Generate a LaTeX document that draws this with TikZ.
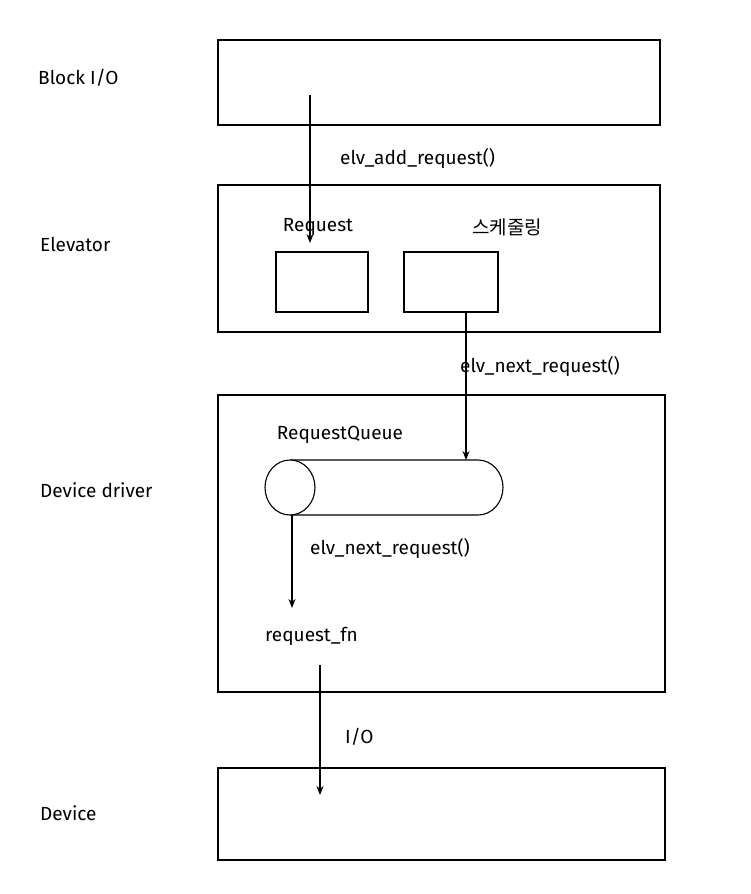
\documentclass[tikz,border=0pt]{standalone}
\usepackage{fontspec}
\setmainfont{Fira Sans}
\newfontfamily\cjk{Noto Sans CJK KR}
\usetikzlibrary{arrows.meta}
\begin{document}
\begin{tikzpicture}[x=1pt,y=-1pt,
  box/.style={draw,line width=1.1pt},
  lbl/.style={font=\fontsize{19}{22}\selectfont,inner sep=0pt},
  arr/.style={line width=1.1pt,-{Stealth[length=9pt,width=7pt]}}]
\useasboundingbox (0,0) rectangle (750,894);
\draw[box] (218,40) rectangle (660,125);
\draw[box] (218,185) rectangle (660,332);
\draw[box] (276,252) rectangle (368,312);
\draw[box] (404,252) rectangle (498,312);
\draw[box] (218,395) rectangle (665,692);
\draw[box] (218,768) rectangle (665,860);
% cylinder
\draw[box] (290,460) -- (478,460) arc[start angle=-90,end angle=90,x radius=25,y radius=27.5] -- (290,515);
\draw[box,fill=white] (290,487.5) ellipse[x radius=25,y radius=27.5];
\node[lbl,anchor=west] (lb) at (38,78) {Block I/O};
\node[lbl,anchor=west] (le) at (40,244) {Elevator};
\node[lbl,anchor=west] (ld) at (40,490) {Device driver};
\node[lbl,anchor=west] (lv) at (40,813) {Device};
\node[lbl] (rq) at (318,227) {Request};
\node[lbl] (sc) at (507,227) {\cjk 스케줄링};
\node[lbl] (rqq) at (340,435) {RequestQueue};
\node[lbl,anchor=west] (fn) at (265,636) {request\_fn};
\coordinate (a1) at (310,95); \coordinate (a2) at (310,243);
\coordinate (b1) at (466,312); \coordinate (b2) at (466,460);
\coordinate (c1) at (292,515); \coordinate (c2) at (292,608);
\coordinate (d1) at (320,665); \coordinate (d2) at (320,795);
\draw[arr] (a1) -- (a2);
\draw[arr] (b1) -- (b2);
\draw[arr] (c1) -- (c2);
\draw[arr] (d1) -- (d2);
\node[lbl,anchor=west] at (340,158) {elv\_add\_request()};
\node[lbl,anchor=west] at (460,366) {elv\_next\_request()};
\node[lbl,anchor=west] at (310,548) {elv\_next\_request()};
\node[lbl,anchor=west] at (345,737) {I/O};
\end{tikzpicture}
\end{document}
